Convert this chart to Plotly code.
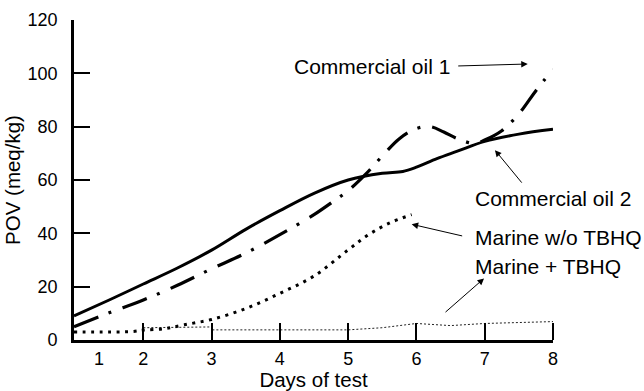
import plotly.graph_objects as go

# ---- data ----
days_oil2 = [0.985, 1.5, 2, 2.5, 3, 3.5, 4, 4.5, 5, 5.5, 5.8, 6, 6.3, 6.6, 7, 7.5, 8]
pov_oil2 = [9, 15, 21, 27, 33.7, 41.5, 48.5, 55, 60, 62.5, 63.2, 64.8, 68, 70.8, 74.5, 77.2, 79]

days_oil1 = [0.985, 1.5, 2, 2.5, 3, 3.5, 4, 4.5, 4.8, 5, 5.25, 5.5, 5.75, 6, 6.2, 6.4, 6.6, 6.85, 7, 7.25, 7.5, 7.75, 8]
pov_oil1 = [5, 10.2, 15, 20.5, 26.7, 32.6, 39.5, 47, 52.3, 56, 62, 69, 75.5, 79.3, 80, 78, 75.5, 73.7, 75, 78.5, 84.8, 93.5, 101.5]

days_marine = [0.985, 1.5, 1.85, 2, 2.3, 2.6, 3, 3.5, 4, 4.5, 5, 5.3, 5.6, 5.93]
pov_marine = [3, 3, 3.2, 3.7, 4.2, 5.7, 7.7, 11.8, 17.5, 24, 33.8, 39.5, 43.8, 47]

days_tbhq = [2, 3, 3, 5, 5.5, 6, 6.5, 7, 8]
pov_tbhq = [4.6, 4.9, 3.8, 3.8, 4.6, 6.2, 5.4, 6.2, 6.9]

tick_days = [2, 3, 4, 5, 6, 7, 8]
label_pos = [1.35, 2, 3, 4, 5, 6, 7, 8]
label_text = ["1", "2", "3", "4", "5", "6", "7", "8"]
y_ticks = [0, 20, 40, 60, 80, 100, 120]

FONT = "Liberation Sans, Arial, Helvetica, sans-serif"

fig = go.Figure()
fig.add_trace(go.Scatter(x=days_tbhq, y=pov_tbhq, mode="lines",
                         line=dict(color="#222", width=1, dash="2px,2px"),
                         name="Marine + TBHQ"))
fig.add_trace(go.Scatter(x=days_marine, y=pov_marine, mode="lines", line_shape="spline",
                         line=dict(color="black", width=3, dash="3px,5.5px"),
                         name="Marine w/o TBHQ"))
fig.add_trace(go.Scatter(x=days_oil2, y=pov_oil2, mode="lines", line_shape="spline",
                         line=dict(color="black", width=3),
                         name="Commercial oil 2"))
fig.add_trace(go.Scatter(x=days_oil1, y=pov_oil1, mode="lines", line_shape="spline",
                         line=dict(color="black", width=3.2, dash="26px,11px,3px,12px"),
                         name="Commercial oil 1"))

labels = [
    ("Commercial oil 1", 4.19, 102.4),
    ("Commercial oil 2", 6.84, 52.9),
    ("Marine w/o TBHQ", 6.84, 38.6),
    ("Marine + TBHQ", 6.84, 27.4),
]
for txt, x, y in labels:
    fig.add_annotation(x=x, y=y, text=txt, showarrow=False, xanchor="left", yanchor="middle",
                       font=dict(size=21, color="black", family=FONT), borderpad=0)

arrows = [
    (7.63, 103.5, -71, 2),
    (7.15, 71.2, 28, 34),
    (5.93, 43.4, 52, 12),
    (6.99, 23.1, -40, 35),
]
for x, y, ax, ay in arrows:
    fig.add_annotation(x=x, y=y, ax=ax, ay=ay, text="", showarrow=True,
                       arrowhead=2, arrowsize=1.3, arrowwidth=1, arrowcolor="black")

fig.update_layout(
    width=644, height=391,
    margin=dict(l=74, r=91, t=20, b=51),
    paper_bgcolor="white", plot_bgcolor="white",
    showlegend=False,
    font=dict(family=FONT, color="black"),
    xaxis=dict(range=[0.985, 8], showgrid=False, zeroline=False, automargin=False,
               showline=True, linecolor="black", linewidth=3,
               tickmode="array", tickvals=label_pos, ticktext=label_text,
               ticks="", tickfont=dict(size=18),
               minor=dict(tickmode="array", tickvals=tick_days, ticks="inside",
                          ticklen=17, tickwidth=1.5, tickcolor="black", showgrid=False),
               title=dict(text="Days of test", font=dict(size=20.5), standoff=0)),
    yaxis=dict(range=[0, 120], showgrid=False, zeroline=False, automargin=False,
               showline=True, linecolor="black", linewidth=2.7,
               tickmode="array", tickvals=y_ticks, ticks="inside",
               ticklen=16, tickwidth=1.5, tickcolor="black",
               tickfont=dict(size=18), ticklabelstandoff=10,
               title=dict(text="POV (meq/kg)", font=dict(size=20.5), standoff=2)),
)

fig.write_html("out.html", config={"displayModeBar": False},
               post_script="document.body.style.margin='0';document.body.style.overflow='hidden';")
